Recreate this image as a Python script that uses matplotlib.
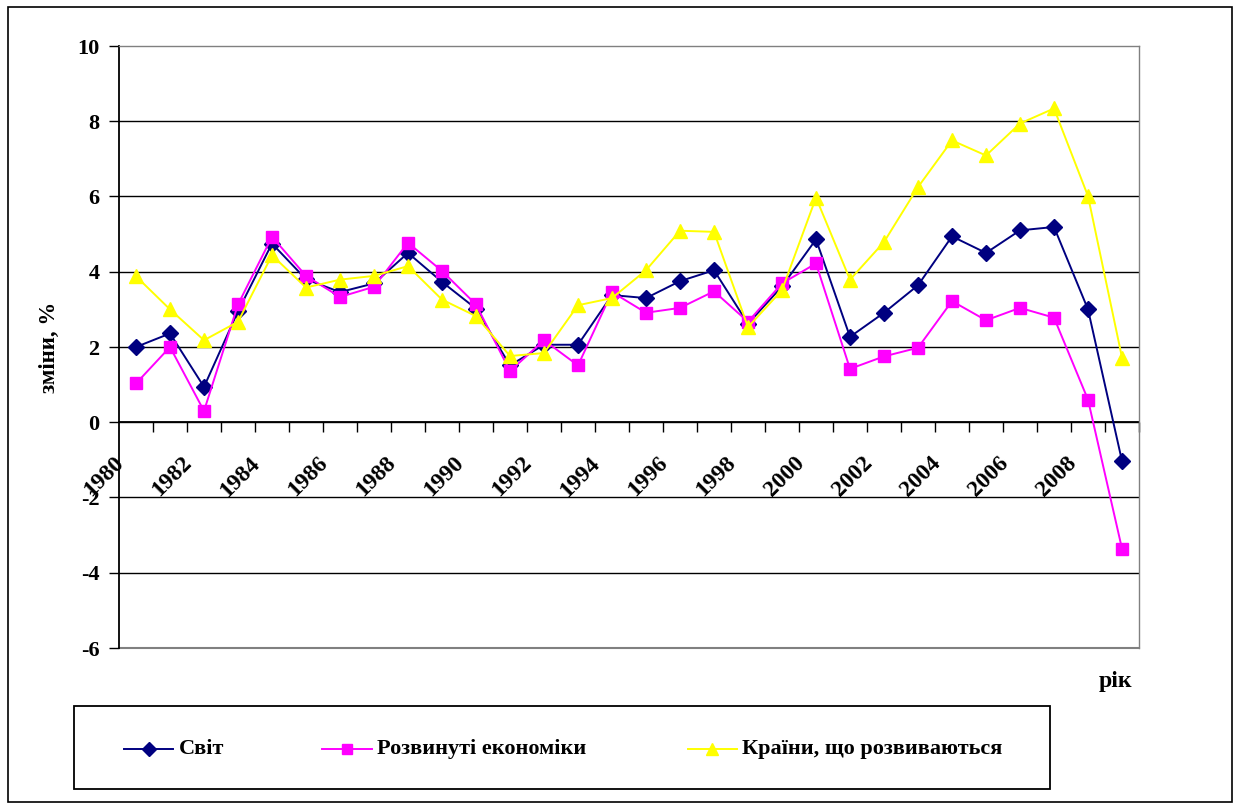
import matplotlib
matplotlib.use("Agg")
import matplotlib.pyplot as plt
import matplotlib.transforms as mtransforms
from matplotlib.lines import Line2D
from matplotlib.patches import Rectangle

years = list(range(1980, 2010))

world = [2.00, 2.36, 0.94, 2.95, 4.75, 3.80, 3.46, 3.69, 4.50, 3.73,
         3.02, 1.51, 2.06, 2.06, 3.38, 3.30, 3.75, 4.04, 2.62, 3.61,
         4.86, 2.27, 2.91, 3.64, 4.94, 4.50, 5.10, 5.19, 3.00, -1.03]
advanced = [1.03, 2.00, 0.30, 3.13, 4.93, 3.89, 3.33, 3.60, 4.77, 4.02,
            3.13, 1.36, 2.18, 1.51, 3.46, 2.91, 3.04, 3.48, 2.67, 3.69,
            4.22, 1.42, 1.75, 1.98, 3.22, 2.71, 3.04, 2.78, 0.60, -3.36]
developing = [3.88, 3.00, 2.18, 2.67, 4.44, 3.58, 3.79, 3.89, 4.15, 3.26,
              2.82, 1.76, 1.84, 3.11, 3.30, 4.04, 5.09, 5.06, 2.53, 3.51,
              5.97, 3.79, 4.79, 6.25, 7.49, 7.09, 7.94, 8.34, 6.01, 1.72]

series_names = ["Світ", "Розвинуті економіки", "Країни, що розвиваються"]
y_ticks = [-6, -4, -2, 0, 2, 4, 6, 8, 10]
y_label = "зміни, %"
x_label = "рік"

serif = ["Liberation Serif", "DejaVu Serif"]
plt.rcParams["font.family"] = serif

W, H = 1235, 805
fig = plt.figure(figsize=(W / 100, H / 100), dpi=100)
fig.patch.set_facecolor("white")

# outer frame of the chart
fig.add_artist(Rectangle((8 / W, 3 / H), (1232 - 8) / W, (798 - 3) / H,
                         transform=fig.transFigure, fill=False,
                         edgecolor="black", linewidth=1.2))

left, right, top, bottom = 119, 1139, 46, 648
ax = fig.add_axes([left / W, 1 - bottom / H, (right - left) / W, (bottom - top) / H])

x = list(range(len(years)))
styles = [
    (world, "#000080", "D", 8),
    (advanced, "#FF00FF", "s", 8.5),
    (developing, "#FFFF00", "^", 10),
]
for (vals, col, mk, ms), name in zip(styles, series_names):
    ax.plot(x, vals, color=col, marker=mk, markersize=ms,
            markerfacecolor=col, markeredgecolor=col,
            linewidth=1.4, label=name, zorder=3)

ax.set_xlim(-0.5, len(years) - 0.5)
ax.set_ylim(y_ticks[0], y_ticks[-1])

# horizontal grid
for v in y_ticks:
    if v in (y_ticks[0], y_ticks[-1]):
        continue
    ax.axhline(v, color="black", linewidth=1.0, zorder=1)

for s in ("top", "right"):
    ax.spines[s].set_color("#808080")
    ax.spines[s].set_linewidth(1.0)
ax.spines["left"].set_color("black")
ax.spines["left"].set_linewidth(1.3)
ax.spines["bottom"].set_position(("data", 0))
ax.spines["bottom"].set_linewidth(1.3)
ax.spines["bottom"].set_zorder(2)
# bottom border of the plot area
ax.axhline(y_ticks[0], color="#808080", linewidth=1.5, zorder=1, clip_on=False)

ax.set_yticks(y_ticks)
ax.set_yticklabels([str(v) for v in y_ticks], fontsize=16, fontweight="bold")
ax.tick_params(axis="y", direction="out", length=7, width=1.0, pad=7)

# category boundaries carry the tick marks, labels every second year
ax.set_xticks([i + 0.5 for i in x[:-1]] + [len(years) - 0.5])
ax.set_xticklabels([])
ax.tick_params(axis="x", which="major", direction="out", length=7, width=1.0)
ax.set_xticks(x[::2], minor=True)
ax.set_xticklabels([str(y) for y in years[::2]], minor=True,
                   fontsize=17, fontweight="bold", rotation=45,
                   ha="right", va="center", rotation_mode="anchor")
ax.tick_params(axis="x", which="minor", length=0, pad=0)
offset = mtransforms.ScaledTranslation(-15 / 100, -38 / 100, fig.dpi_scale_trans)
for lab in ax.get_xticklabels(minor=True):
    lab.set_transform(lab.get_transform() + offset)

fig.text(49 / W, 1 - 347 / H, y_label, rotation=90, ha="center", va="center",
         fontsize=16.5, fontweight="bold")
fig.text(1115 / W, 1 - 681 / H, x_label, ha="center", va="center",
         fontsize=17, fontweight="bold")

# legend box
fig.add_artist(Rectangle((74 / W, 1 - 789 / H), (1050 - 74) / W, (789 - 706) / H,
                         transform=fig.transFigure, fill=False,
                         edgecolor="black", linewidth=1.3))
leg_items = [(124, 173, 179), (322, 372, 377), (688, 737, 742)]
ly = 1 - 749 / H
for (x0, x1, tx), (vals, col, mk, ms), name in zip(leg_items, styles, series_names):
    fig.add_artist(Line2D([x0 / W, x1 / W], [ly, ly], transform=fig.transFigure,
                          color=col, linewidth=1.4))
    fig.add_artist(Line2D([(x0 + x1) / 2 / W], [ly], transform=fig.transFigure,
                          color=col, marker=mk, markersize=ms * 0.9,
                          markerfacecolor=col, markeredgecolor=col))
    fig.text(tx / W, ly, name, ha="left", va="center", fontsize=16,
             fontweight="bold")

fig.savefig("out.png", dpi=100, facecolor="white")
